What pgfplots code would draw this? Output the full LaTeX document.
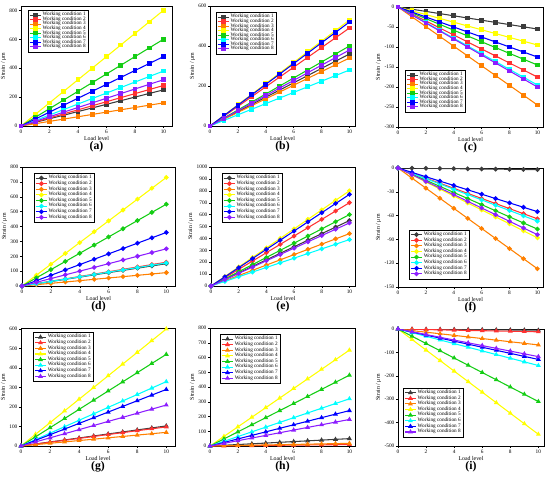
\documentclass[border=0pt]{standalone}
\usepackage{fontspec}
\setmainfont{Liberation Serif}
\usepackage{pgfplots}
\usepackage{pgfplotstable}
\pgfplotsset{compat=1.18}

\definecolor{c1}{RGB}{60,60,60}
\definecolor{c2}{RGB}{255,50,50}
\definecolor{c3}{RGB}{255,128,0}
\definecolor{c4}{RGB}{255,255,0}
\definecolor{c5}{RGB}{20,205,20}
\definecolor{c6}{RGB}{0,255,255}
\definecolor{c7}{RGB}{0,0,255}
\definecolor{c8}{RGB}{140,30,255}

\pgfplotscreateplotcyclelist{wcsq}{
{c1,mark=square*},{c2,mark=square*},{c3,mark=square*},{c4,mark=square*},
{c5,mark=square*},{c6,mark=square*},{c7,mark=square*},{c8,mark=square*}}
\pgfplotscreateplotcyclelist{wcci}{
{c1,mark=*},{c2,mark=*},{c3,mark=*},{c4,mark=*},
{c5,mark=*},{c6,mark=*},{c7,mark=*},{c8,mark=*}}
\pgfplotscreateplotcyclelist{wctr}{
{c1,mark=triangle*},{c2,mark=triangle*},{c3,mark=triangle*},{c4,mark=triangle*},
{c5,mark=triangle*},{c6,mark=triangle*},{c7,mark=triangle*},{c8,mark=triangle*}}

\pgfplotsset{
  panel/.style={
    scale only axis, anchor=south west, clip mode=individual,
    xmin=0, xmax=10.4, xtick={0,2,...,10},
    tick align=outside, tick pos=left,
    major tick length=1.5pt,
    axis line style={line width=0.4pt},
    every tick/.style={line width=0.3pt,black},
    /pgf/number format/assume math mode=true,
    /pgf/number format/1000 sep={},
    ticklabel style={font=\fontsize{4}{4.5}\selectfont, inner sep=1pt},
    xlabel={Load level}, ylabel={Strain / μm},
    label style={font=\fontsize{4.4}{5}\selectfont},
    xlabel style={yshift=2pt},
    ylabel style={yshift=-2pt},
    every axis plot/.append style={line width=0.8pt, mark size=1.35pt},
    legend cell align=left,
    legend style={font=\fontsize{3.9}{4.4}\selectfont, draw=black, line width=0.3pt,
      inner sep=0.8pt, row sep=-1.6pt, nodes={inner sep=0.8pt}},
    legend image code/.code={\draw[mark repeat=2,mark phase=2] plot coordinates {(0cm,0cm) (0.15cm,0cm) (0.3cm,0cm)};},
  },
  rowone/.style={legend style={row sep=-2.4pt}},
}

\newcommand{\eightplots}[1]{%
  \addplot table[x index=0,y index=1]{#1};
  \addplot table[x index=0,y index=2]{#1};
  \addplot table[x index=0,y index=3]{#1};
  \addplot table[x index=0,y index=4]{#1};
  \addplot table[x index=0,y index=5]{#1};
  \addplot table[x index=0,y index=6]{#1};
  \addplot table[x index=0,y index=7]{#1};
  \addplot table[x index=0,y index=8]{#1};
  \legend{Working condition 1,Working condition 2,Working condition 3,Working condition 4,Working condition 5,Working condition 6,Working condition 7,Working condition 8}
}
\newcommand{\sublabel}[1]{\node[font=\bfseries\fontsize{8.8}{9}\selectfont] at (rel axis cs:0.5,0) [yshift=-15.8pt] {#1};}

\pgfplotstableread{
x c1 c2 c3 c4 c5 c6 c7 c8
0 0 0 0 0 0 0 0 0
1 25 28 16 80 60 38 48 32
2 50 56 32 160 120 76 96 64
3 75 84 48 240 180 114 144 96
4 100 112 64 320 240 152 192 128
5 125 140 80 400 300 190 240 160
6 150 168 96 480 360 228 288 192
7 175 196 112 560 420 266 336 224
8 200 224 128 640 480 304 384 256
9 225 252 144 720 540 342 432 288
10 250 280 160 800 600 380 480 320
}\ta
\pgfplotstableread{
x c1 c2 c3 c4 c5 c6 c7 c8
0 0 0 0 0 0 0 0 0
1 36 49 34 53 40 28 52 38
2 72 98 68 106 80 56 104 76
3 108 147 102 159 120 84 156 114
4 144 196 136 212 160 112 208 152
5 180 245 170 265 200 140 260 190
6 216 294 204 318 240 168 312 228
7 252 343 238 371 280 196 364 266
8 288 392 272 424 320 224 416 304
9 324 441 306 477 360 252 468 342
10 360 490 340 530 400 280 520 380
}\tb
\pgfplotstableread{
x c1 c2 c3 c4 c5 c6 c7 c8
0 0 0 0 0 0 0 0 0
1 -5.5 -17.5 -24.5 -9.5 -14.5 -19.5 -12.5 -20
2 -11 -35 -49 -19 -29 -39 -25 -40
3 -16.5 -52.5 -73.5 -28.5 -43.5 -58.5 -37.5 -60
4 -22 -70 -98 -38 -58 -78 -50 -80
5 -27.5 -87.5 -122.5 -47.5 -72.5 -97.5 -62.5 -100
6 -33 -105 -147 -57 -87 -117 -75 -120
7 -38.5 -122.5 -171.5 -66.5 -101.5 -136.5 -87.5 -140
8 -44 -140 -196 -76 -116 -156 -100 -160
9 -49.5 -157.5 -220.5 -85.5 -130.5 -175.5 -112.5 -180
10 -55 -175 -245 -95 -145 -195 -125 -200
}\tc
\pgfplotstableread{
x c1 c2 c3 c4 c5 c6 c7 c8
0 0 0 0 0 0 0 0 0
1 15 16 9 73 55 15.5 36 25
2 30 32 18 146 110 31 72 50
3 45 48 27 219 165 46.5 108 75
4 60 64 36 292 220 62 144 100
5 75 80 45 365 275 77.5 180 125
6 90 96 54 438 330 93 216 150
7 105 112 63 511 385 108.5 252 175
8 120 128 72 584 440 124 288 200
9 135 144 81 657 495 139.5 324 225
10 150 160 90 730 550 155 360 250
}\td
\pgfplotstableread{
x c1 c2 c3 c4 c5 c6 c7 c8
0 0 0 0 0 0 0 0 0
1 55 70 44 80 60 39 77 53
2 110 140 88 160 120 78 154 106
3 165 210 132 240 180 117 231 159
4 220 280 176 320 240 156 308 212
5 275 350 220 400 300 195 385 265
6 330 420 264 480 360 234 462 318
7 385 490 308 560 420 273 539 371
8 440 560 352 640 480 312 616 424
9 495 630 396 720 540 351 693 477
10 550 700 440 800 600 390 770 530
}\te
\pgfplotstableread{
x c1 c2 c3 c4 c5 c6 c7 c8
0 0 0 0 0 0 0 0 0
1 -0.2 -6.4 -12.7 -8.8 -7.7 -6.7 -5.5 -8.4
2 -0.4 -12.8 -25.4 -17.6 -15.4 -13.4 -11 -16.8
3 -0.6 -19.2 -38.1 -26.4 -23.1 -20.1 -16.5 -25.2
4 -0.8 -25.6 -50.8 -35.2 -30.8 -26.8 -22 -33.6
5 -1 -32 -63.5 -44 -38.5 -33.5 -27.5 -42
6 -1.2 -38.4 -76.2 -52.8 -46.2 -40.2 -33 -50.4
7 -1.4 -44.8 -88.9 -61.6 -53.9 -46.9 -38.5 -58.8
8 -1.6 -51.2 -101.6 -70.4 -61.6 -53.6 -44 -67.2
9 -1.8 -57.6 -114.3 -79.2 -69.3 -60.3 -49.5 -75.6
10 -2 -64 -127 -88 -77 -67 -55 -84
}\tf
\pgfplotstableread{
x c1 c2 c3 c4 c5 c6 c7 c8
0 0 0 0 0 0 0 0 0
1 10.3 9.8 7 60 47 33 29 21
2 20.6 19.6 14 120 94 66 58 42
3 30.9 29.4 21 180 141 99 87 63
4 41.2 39.2 28 240 188 132 116 84
5 51.5 49 35 300 235 165 145 105
6 61.8 58.8 42 360 282 198 174 126
7 72.1 68.6 49 420 329 231 203 147
8 82.4 78.4 56 480 376 264 232 168
9 92.7 88.2 63 540 423 297 261 189
10 103 98 70 600 470 330 290 210
}\tg
\pgfplotstableread{
x c1 c2 c3 c4 c5 c6 c7 c8
0 0 0 0 0 0 0 0 0
1 5 1 1.8 65 48 32 24 18
2 10 2 3.6 130 96 64 48 36
3 15 3 5.4 195 144 96 72 54
4 20 4 7.2 260 192 128 96 72
5 25 5 9 325 240 160 120 90
6 30 6 10.8 390 288 192 144 108
7 35 7 12.6 455 336 224 168 126
8 40 8 14.4 520 384 256 192 144
9 45 9 16.2 585 432 288 216 162
10 50 10 18 650 480 320 240 180
}\th
\pgfplotstableread{
x c1 c2 c3 c4 c5 c6 c7 c8
0 0 0 0 0 0 0 0 0
1 -0.5 -1.2 -6.8 -45 -31 -15.6 -13 -11.8
2 -1 -2.4 -13.6 -90 -62 -31.2 -26 -23.6
3 -1.5 -3.6 -20.4 -135 -93 -46.8 -39 -35.4
4 -2 -4.8 -27.2 -180 -124 -62.4 -52 -47.2
5 -2.5 -6 -34 -225 -155 -78 -65 -59
6 -3 -7.2 -40.8 -270 -186 -93.6 -78 -70.8
7 -3.5 -8.4 -47.6 -315 -217 -109.2 -91 -82.6
8 -4 -9.6 -54.4 -360 -248 -124.8 -104 -94.4
9 -4.5 -10.8 -61.2 -405 -279 -140.4 -117 -106.2
10 -5 -12 -68 -450 -310 -156 -130 -118
}\ti

\begin{document}
\begin{tikzpicture}
\path[use as bounding box] (0,0) rectangle (412.5pt,-365.25pt);

% Row 1
\begin{axis}[panel, rowone, cycle list name=wcsq, at={(15.75pt,-94.5pt)}, width=113.25pt, height=90pt,
  xmax=10.6, ymin=0, ymax=830, ytick={0,200,...,800},
  legend style={at={(0.046,0.967)},anchor=north west}]
\eightplots{\ta}
\sublabel{(a)}
\end{axis}
\begin{axis}[panel, rowone, cycle list name=wcsq, at={(157.5pt,-94.5pt)}, width=108.75pt, height=90pt,
  ymin=0, ymax=600, ytick={0,200,400,600},
  legend style={at={(0.041,0.95)},anchor=north west}]
\eightplots{\tb}
\sublabel{(b)}
\end{axis}
\begin{axis}[panel, rowone, cycle list name=wcsq, at={(298.5pt,-95.25pt)}, width=108.75pt, height=90pt,
  ymin=-300, ymax=0, ytick={-300,-250,...,0},
  legend style={at={(0.048,0.125)},anchor=south west}]
\eightplots{\tc}
\sublabel{(c)}
\end{axis}

% Row 2
\begin{axis}[panel, cycle list name=wcci, at={(16.5pt,-214.5pt)}, width=114.75pt, height=89.25pt,
  xmax=10.6, ymin=0, ymax=800, ytick={0,100,...,800},
  legend style={at={(0.078,0.95)},anchor=north west}]
\eightplots{\td}
\sublabel{(d)}
\end{axis}
\begin{axis}[panel, cycle list name=wcci, at={(158.25pt,-214.5pt)}, width=108pt, height=89.25pt,
  ymin=0, ymax=1000, ytick={0,100,...,1000},
  legend style={at={(0.076,0.95)},anchor=north west}]
\eightplots{\te}
\sublabel{(e)}
\end{axis}
\begin{axis}[panel, cycle list name=wcci, at={(298.5pt,-215.25pt)}, width=108.75pt, height=89.25pt,
  ymin=-150, ymax=0, ytick={-150,-120,...,0},
  legend style={at={(0.076,0.067)},anchor=south west}]
\eightplots{\tf}
\sublabel{(f)}
\end{axis}

% Row 3
\begin{axis}[panel, cycle list name=wctr, at={(15.75pt,-334.5pt)}, width=115.5pt, height=88.5pt,
  xmax=10.6, ymin=0, ymax=605, ytick={0,100,...,600},
  legend style={at={(0.078,0.966)},anchor=north west}]
\eightplots{\tg}
\sublabel{(g)}
\end{axis}
\begin{axis}[panel, cycle list name=wctr, at={(157.5pt,-334.5pt)}, width=108.75pt, height=88.5pt,
  ymin=0, ymax=800, ytick={0,100,...,800},
  legend style={at={(0.069,0.95)},anchor=north west}]
\eightplots{\th}
\sublabel{(h)}
\end{axis}
\begin{axis}[panel, cycle list name=wctr, at={(298.5pt,-334.5pt)}, width=109.5pt, height=87.75pt,
  ymin=-500, ymax=0, ytick={-500,-400,...,0},
  legend style={at={(0.034,0.076)},anchor=south west}]
\eightplots{\ti}
\sublabel{(i)}
\end{axis}
\end{tikzpicture}
\end{document}
